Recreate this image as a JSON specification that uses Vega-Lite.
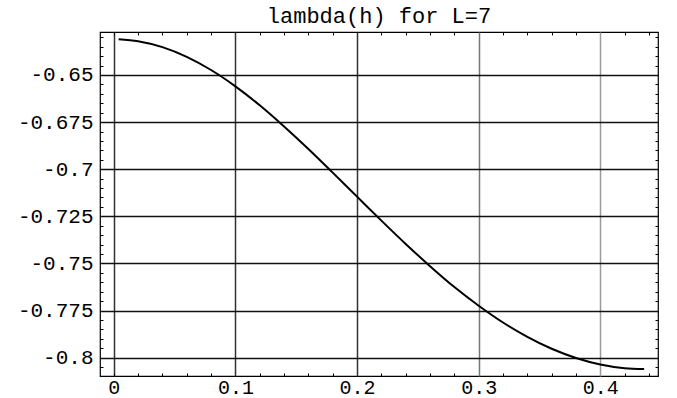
{
  "$schema": "https://vega.github.io/schema/vega-lite/v6.json",
  "width": 558,
  "height": 344,
  "autosize": {"type": "none"},
  "padding": {"left": 100, "top": 32, "right": 19, "bottom": 22},
  "background": "white",
  "config": {
    "view": {"stroke": "#000", "strokeWidth": 1.2},
    "font": "Liberation Mono"
  },
  "title": {
    "text": "lambda(h) for L=7",
    "font": "Liberation Mono",
    "fontSize": 22,
    "fontWeight": "normal",
    "color": "#000",
    "offset": 4,
    "anchor": "middle"
  },
  "data": {
    "values": [
      {"h": 0.004, "lambda": -0.63104},
      {"h": 0.02, "lambda": -0.63206},
      {"h": 0.04, "lambda": -0.63522},
      {"h": 0.06, "lambda": -0.64037},
      {"h": 0.08, "lambda": -0.64737},
      {"h": 0.10, "lambda": -0.65602},
      {"h": 0.12, "lambda": -0.66607},
      {"h": 0.14, "lambda": -0.6773},
      {"h": 0.16, "lambda": -0.68925},
      {"h": 0.18, "lambda": -0.70182},
      {"h": 0.20, "lambda": -0.71455},
      {"h": 0.22, "lambda": -0.72726},
      {"h": 0.24, "lambda": -0.73964},
      {"h": 0.26, "lambda": -0.75142},
      {"h": 0.28, "lambda": -0.76251},
      {"h": 0.30, "lambda": -0.7724},
      {"h": 0.32, "lambda": -0.7813},
      {"h": 0.34, "lambda": -0.78892},
      {"h": 0.36, "lambda": -0.79526},
      {"h": 0.38, "lambda": -0.80012},
      {"h": 0.40, "lambda": -0.80356},
      {"h": 0.42, "lambda": -0.80555},
      {"h": 0.436, "lambda": -0.806}
    ]
  },
  "resolve": {"axis": {"x": "independent", "y": "independent"}},
  "layer": [
    {
      "mark": {"type": "line", "color": "#000", "strokeWidth": 2, "interpolate": "monotone"},
      "encoding": {
        "x": {
          "field": "h", "type": "quantitative",
          "scale": {"domain": [-0.0113, 0.4474], "nice": false, "zero": false},
          "axis": {
            "orient": "bottom", "title": null, "values": [0, 0.1, 0.2, 0.3, 0.4],
            "labelExpr": "format(datum.value, '.1~f')",
            "labelFont": "Liberation Mono", "labelFontSize": 20, "labelColor": "#000",
            "labelPadding": 1, "ticks": false, "domain": false,
            "grid": true, "gridWidth": 1.5,
            "gridColor": {"condition": [
              {"test": "datum.value > 0.35", "value": "#9a9a9a"},
              {"test": "datum.value > 0.25", "value": "#777777"}
            ], "value": "#333333"}
          }
        },
        "y": {
          "field": "lambda", "type": "quantitative",
          "scale": {"domain": [-0.8097, -0.6272], "nice": false, "zero": false},
          "axis": {
            "orient": "left", "title": null,
            "values": [-0.65, -0.675, -0.7, -0.725, -0.75, -0.775, -0.8],
            "labelExpr": "replace(format(datum.value, '.3~f'), '\u2212', '-')",
            "labelFont": "Liberation Mono", "labelFontSize": 21, "labelColor": "#000",
            "labelPadding": 7, "ticks": false, "domain": false,
            "grid": true, "gridWidth": 1.5, "gridColor": "#111111"
          }
        }
      }
    },
    {
      "mark": {"type": "line", "opacity": 0},
      "encoding": {
        "x": {
          "field": "h", "type": "quantitative",
          "axis": {
            "orient": "bottom", "title": null, "labels": false, "domain": false, "grid": false,
            "values": [0, 0.02, 0.04, 0.06, 0.08, 0.12, 0.14, 0.16, 0.18, 0.22, 0.24, 0.26, 0.28, 0.32, 0.34, 0.36, 0.38, 0.42, 0.44],
            "ticks": true, "tickSize": -3, "tickColor": "#000", "tickWidth": 1
          }
        },
        "y": {
          "field": "lambda", "type": "quantitative",
          "axis": {
            "orient": "left", "title": null, "labels": false, "domain": false, "grid": false,
            "values": [-0.63, -0.635, -0.64, -0.645, -0.655, -0.66, -0.665, -0.67, -0.68, -0.685, -0.69, -0.695, -0.705, -0.71, -0.715, -0.72, -0.73, -0.735, -0.74, -0.745, -0.755, -0.76, -0.765, -0.77, -0.78, -0.785, -0.79, -0.795, -0.805],
            "ticks": true, "tickSize": -3, "tickColor": "#000", "tickWidth": 1
          }
        }
      }
    },
    {
      "mark": {"type": "line", "opacity": 0},
      "encoding": {
        "x": {
          "field": "h", "type": "quantitative",
          "axis": {
            "orient": "top", "title": null, "labels": false, "domain": false, "grid": false,
            "values": [0, 0.02, 0.04, 0.06, 0.08, 0.12, 0.14, 0.16, 0.18, 0.22, 0.24, 0.26, 0.28, 0.32, 0.34, 0.36, 0.38, 0.42, 0.44],
            "ticks": true, "tickSize": -3, "tickColor": "#000", "tickWidth": 1
          }
        },
        "y": {
          "field": "lambda", "type": "quantitative",
          "axis": {
            "orient": "right", "title": null, "labels": false, "domain": false, "grid": false,
            "values": [-0.63, -0.635, -0.64, -0.645, -0.655, -0.66, -0.665, -0.67, -0.68, -0.685, -0.69, -0.695, -0.705, -0.71, -0.715, -0.72, -0.73, -0.735, -0.74, -0.745, -0.755, -0.76, -0.765, -0.77, -0.78, -0.785, -0.79, -0.795, -0.805],
            "ticks": true, "tickSize": -3, "tickColor": "#000", "tickWidth": 1
          }
        }
      }
    }
  ]
}
